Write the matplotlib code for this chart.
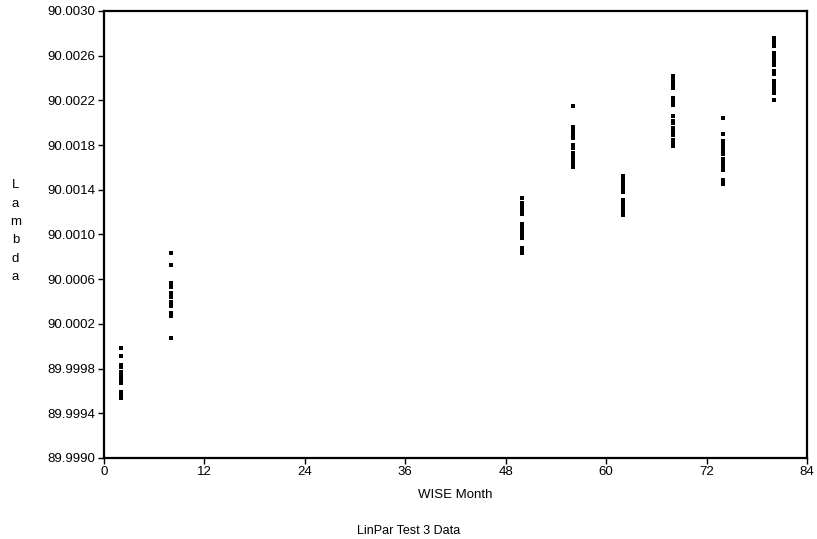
import numpy as np
import matplotlib.pyplot as plt

# WISE month for each cluster and the Lambda values
months = [2, 8, 50, 56, 62, 68, 74, 80]

lam_m2 = [89.99998, 89.99991, 89.99983, 89.99981, 89.99977, 89.99973,
          89.99970, 89.99967, 89.99959, 89.99956, 89.99954]
lam_m8 = [90.00083, 90.00073, 90.00057, 90.00053, 90.00048, 90.00044,
          90.00040, 90.00036, 90.00030, 90.00027, 90.00007]
lam_m50 = [90.00133, 90.00128, 90.00125, 90.00121, 90.00118, 90.00109,
           90.00107, 90.00104, 90.00100, 90.00097, 90.00088, 90.00085,
           90.00083]
lam_m56 = [90.00215, 90.00196, 90.00193, 90.00189, 90.00186, 90.00180,
           90.00177, 90.00173, 90.00169, 90.00167, 90.00163, 90.00160]
lam_m62 = [90.00152, 90.00149, 90.00145, 90.00142, 90.00138, 90.00131,
           90.00127, 90.00124, 90.00120, 90.00117]
lam_m68 = [90.00242, 90.00238, 90.00235, 90.00231, 90.00222, 90.00219,
           90.00216, 90.00206, 90.00202, 90.00200, 90.00195, 90.00193,
           90.00189, 90.00185, 90.00183, 90.00179]
lam_m74 = [90.00204, 90.00190, 90.00184, 90.00180, 90.00177, 90.00175,
           90.00172, 90.00168, 90.00165, 90.00161, 90.00158, 90.00149,
           90.00145]
lam_m80 = [90.00276, 90.00272, 90.00269, 90.00262, 90.00259, 90.00255,
           90.00252, 90.00246, 90.00244, 90.00237, 90.00234, 90.00230,
           90.00227, 90.00220]

lambdas = [lam_m2, lam_m8, lam_m50, lam_m56, lam_m62, lam_m68, lam_m74, lam_m80]

x_ticks = [0, 12, 24, 36, 48, 60, 72, 84]
y_ticks = [89.9990, 89.9994, 89.9998, 90.0002, 90.0006, 90.0010,
           90.0014, 90.0018, 90.0022, 90.0026, 90.0030]


def main():
    plt.rcParams['font.family'] = ['Liberation Sans', 'DejaVu Sans']
    fig = plt.figure(figsize=(8.17, 5.39), dpi=100)
    ax = fig.add_axes([0.1273, 0.1503, 0.8605, 0.8293])

    for month, vals in zip(months, lambdas):
        ax.plot([month] * len(vals), vals, linestyle='none', marker='s',
                markersize=2.2, color='black', markeredgewidth=0)

    ax.set_xlim(0, 84)
    ax.set_ylim(89.9990, 90.0030)
    ax.set_xticks(x_ticks)
    ax.set_xticklabels([str(t) for t in x_ticks])
    ax.set_yticks(y_ticks)
    ax.set_yticklabels([f'{t:.4f}' for t in y_ticks])
    ax.tick_params(direction='out', length=4, width=1, labelsize=9.5,
                   pad=2)
    for side in ax.spines.values():
        side.set_linewidth(1.6)

    ax.set_xlabel('WISE Month', fontsize=9.5, labelpad=8)
    fig.text(0.019, 0.571, '\n'.join('Lambda'), ha='center', va='center',
             fontsize=9.5, linespacing=1.7)
    fig.text(0.5, 0.003, 'LinPar Test 3 Data', ha='center', va='bottom',
             fontsize=9)

    fig.savefig('out.png', dpi=100)


if __name__ == "__main__":
    main()
